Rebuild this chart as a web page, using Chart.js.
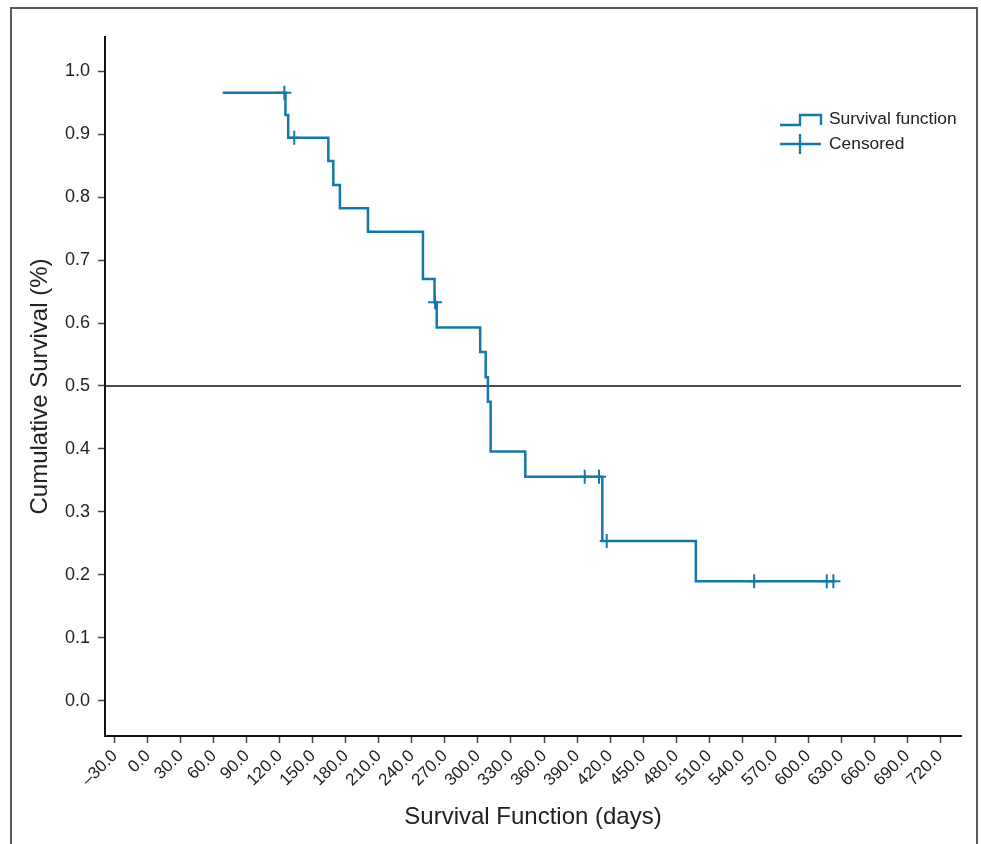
<!DOCTYPE html>
<html>
<head>
<meta charset="utf-8">
<script src="https://cdn.jsdelivr.net/npm/chart.js@4.4.1/dist/chart.umd.min.js"></script>
<style>
  html, body { margin: 0; padding: 0; background: #ffffff; }
  #wrap { position: relative; width: 981px; height: 844px; overflow: hidden; }
  #frame { position: absolute; left: 10px; top: 7px; width: 968px; height: 900px; box-sizing: border-box;
           border: 2px solid #5a5a5a; border-bottom: none; }
  canvas { position: absolute; left: 0; top: 0; }
  #legend { position: absolute; left: 779px; top: 106px; font-family: 'Liberation Sans', Arial, sans-serif;
            font-size: 17.4px; color: #222; }
  .row { display: flex; align-items: center; height: 25px; }
  .row svg { margin-right: 6px; }
</style>
</head>
<body>
<div id="wrap">
  <div id="frame"></div>
  <canvas id="c" width="981" height="844"></canvas>
  <div id="legend">
    <div class="row"><svg width="44" height="20"><polyline points="1,16 21,16 21,6 42,6 42,16" fill="none" stroke="#1479a8" stroke-width="2.3"/></svg><span>Survival function</span></div>
    <div class="row"><svg width="44" height="20"><line x1="1" y1="10" x2="42" y2="10" stroke="#1479a8" stroke-width="2.3"/><line x1="21" y1="0" x2="21" y2="20" stroke="#1479a8" stroke-width="2.3"/></svg><span>Censored</span></div>
  </div>
</div>
<script>
// ---- data ----
const xTickValues = [-30, 0, 30, 60, 90, 120, 150, 180, 210, 240, 270, 300, 330, 360, 390, 420, 450, 480, 510, 540, 570, 600, 630, 660, 690, 720];
const xTickLabels = ['\u201330.0', '0.0', '30.0', '60.0', '90.0', '120.0', '150.0', '180.0', '210.0', '240.0', '270.0', '300.0', '330.0', '360.0', '390.0', '420.0', '450.0', '480.0', '510.0', '540.0', '570.0', '600.0', '630.0', '660.0', '690.0', '720.0'];
const yTickValues = [0, 0.1, 0.2, 0.3, 0.4, 0.5, 0.6, 0.7, 0.8, 0.9, 1.0];
const yTickLabels = ['0.0', '0.1', '0.2', '0.3', '0.4', '0.5', '0.6', '0.7', '0.8', '0.9', '1.0'];
const xRange = [-39, 739];
const yRange = [-0.0556, 1.054];

const survivalDays   = [68, 125, 127.5, 164, 168.5, 174.5, 200, 250, 260.5, 262.5, 302, 307, 309, 311.5, 343, 413, 498, 625];
const survivalValues = [0.9655, 0.930, 0.894, 0.857, 0.819, 0.782, 0.745, 0.670, 0.633, 0.593, 0.554, 0.514, 0.475, 0.396, 0.356, 0.254, 0.190, 0.190];
const censoredDays   = [124, 133, 261, 397, 410, 417, 551, 617, 623];
const censoredValues = [0.9655, 0.894, 0.633, 0.356, 0.356, 0.254, 0.190, 0.190, 0.190];
const referenceLevel = 0.5;

const xTitle = 'Survival Function (days)';
const yTitle = 'Cumulative Survival (%)';

// ---- chart ----
const curveColor = '#1479a8';
const inkColor = '#222222';
const family = "'Liberation Sans', Arial, sans-serif";

const survivalPoints = survivalDays.map((d, i) => ({ x: d, y: survivalValues[i] }));
const censoredPoints = censoredDays.map((d, i) => ({ x: d, y: censoredValues[i] }));
const referencePoints = xRange.map(x => ({ x: x, y: referenceLevel }));

new Chart(document.getElementById('c'), {
  type: 'scatter',
  data: {
    datasets: [
      {
        label: 'Reference',
        data: referencePoints,
        showLine: true,
        borderColor: '#111111',
        borderWidth: 1.6,
        pointRadius: 0,
        order: 3
      },
      {
        label: 'Survival function',
        data: survivalPoints,
        showLine: true,
        stepped: 'before',
        borderColor: curveColor,
        borderWidth: 2.5,
        pointRadius: 0,
        order: 2
      },
      {
        label: 'Censored',
        data: censoredPoints,
        showLine: false,
        pointStyle: 'cross',
        pointRadius: 7,
        borderColor: curveColor,
        borderWidth: 2,
        order: 1
      }
    ]
  },
  options: {
    responsive: false,
    animation: false,
    devicePixelRatio: 1,
    layout: { padding: { left: 0, top: 37, right: 20, bottom: 0 } },
    plugins: {
      legend: { display: false },
      tooltip: { enabled: false }
    },
    scales: {
      x: {
        type: 'linear',
        min: xRange[0],
        max: xRange[1],
        afterBuildTicks: s => { s.ticks = xTickValues.map(v => ({ value: v })); },
        afterFit: s => { s.height = 108; },
        ticks: {
          autoSkip: false,
          minRotation: 45,
          maxRotation: 45,
          padding: 3,
          color: inkColor,
          font: { family: family, size: 17 },
          callback: (v, i) => xTickLabels[i]
        },
        grid: { drawOnChartArea: false, drawTicks: true, tickLength: 7, tickWidth: 1.5, tickColor: '#444' },
        border: { display: true, color: '#111', width: 2 },
        title: {
          display: true,
          text: xTitle,
          color: inkColor,
          font: { family: family, size: 24 },
          padding: { top: 12, bottom: 12 }
        }
      },
      y: {
        type: 'linear',
        min: yRange[0],
        max: yRange[1],
        afterBuildTicks: s => { s.ticks = yTickValues.map(v => ({ value: v })); },
        afterFit: s => { s.width = 105; },
        ticks: {
          padding: 8,
          color: inkColor,
          font: { family: family, size: 18 },
          callback: (v, i) => yTickLabels[i]
        },
        grid: { drawOnChartArea: false, drawTicks: true, tickLength: 7, tickWidth: 1.5, tickColor: '#444' },
        border: { display: true, color: '#111', width: 2 },
        title: {
          display: true,
          text: yTitle,
          color: inkColor,
          font: { family: family, size: 24 },
          padding: { top: 26, bottom: 26 }
        }
      }
    }
  }
});
</script>
</body>
</html>
